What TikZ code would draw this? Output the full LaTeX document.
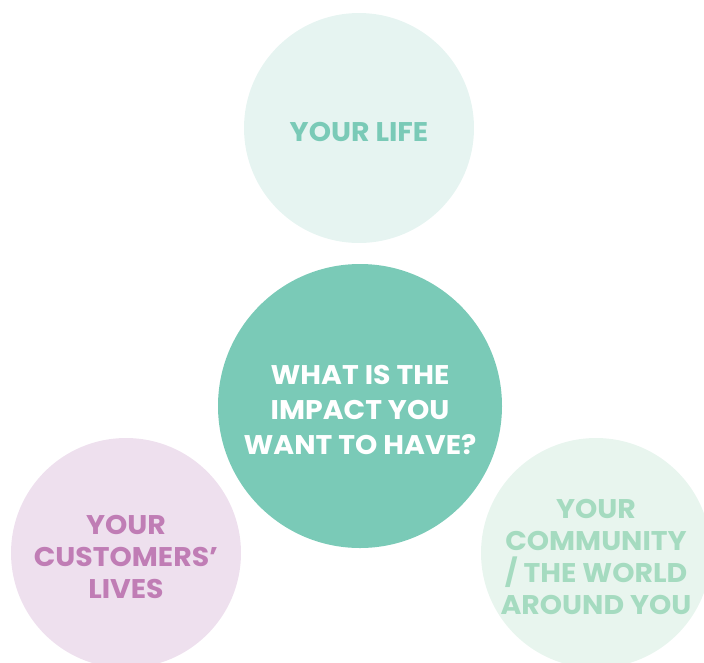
\documentclass[tikz,border=0pt]{standalone}
\usepackage{fontspec}
\setmainfont{Poppins}[FakeStretch=1.05]
\definecolor{teal}{HTML}{7ACAB7}
\definecolor{mintpale}{HTML}{E6F4F1}
\definecolor{pinkpale}{HTML}{EEE0EE}
\definecolor{pinktext}{HTML}{C07DB5}
\definecolor{greenpale}{HTML}{E8F5EE}
\definecolor{greentext}{HTML}{A5DBC0}
\tikzset{
  disc/.style={circle, draw=none, inner sep=0pt},
  small/.style={disc, minimum size=230pt},
  big/.style={disc, minimum size=284pt},
  caption/.style={inner sep=0pt, align=center,
    font=\fontsize{27}{32}\selectfont\bfseries},
  bigcaption/.style={caption, font=\fontsize{27}{35}\selectfont\bfseries}
}
\begin{document}
\begin{tikzpicture}[x=1pt, y=-1pt]
  \clip (0,0) rectangle (704,662);
  \useasboundingbox (0,0) rectangle (704,662);
  % outer circles
  \node[small, fill=mintpale] (life) at (359,128) {};
  \node[small, fill=pinkpale] (customers) at (126,553) {};
  \node[small, fill=greenpale] (community) at (596,553) {};
  % central circle
  \node[big, fill=teal] (impact) at (360,406) {};
  % captions
  \node[caption, text=teal] (lifetext) at ([yshift=-4pt]life.center) {YOUR LIFE};
  \node[caption, text=pinktext] (customerstext) at ([yshift=-4pt]customers.center)
    {YOUR\\CUSTOMERS'\\LIVES};
  \node[caption, text=greentext] (communitytext) at ([yshift=-4pt]community.center)
    {YOUR\\COMMUNITY\\/ THE WORLD\\AROUND YOU};
  \node[bigcaption, text=white] (impacttext) at ([yshift=-4pt]impact.center)
    {WHAT IS THE\\IMPACT YOU\\WANT TO HAVE?};
\end{tikzpicture}
\end{document}
